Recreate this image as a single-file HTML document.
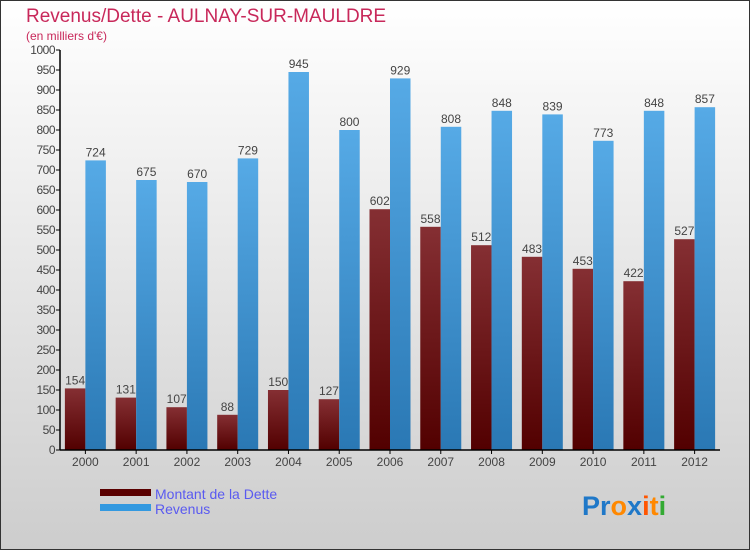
<!DOCTYPE html>
<html><head><meta charset="utf-8"><style>
body{margin:0;width:750px;height:550px;overflow:hidden;font-family:"Liberation Sans",sans-serif}
</style></head><body>
<svg width="750" height="550" id="c">
<defs>
<linearGradient id="bg" x1="0" y1="0" x2="0" y2="1"><stop offset="0" stop-color="#ffffff"/><stop offset="1" stop-color="#cdcdcd"/></linearGradient>
<linearGradient id="gd" x1="0" y1="0" x2="0" y2="1"><stop offset="0" stop-color="#852f33"/><stop offset="1" stop-color="#520000"/></linearGradient>
<linearGradient id="gr" x1="0" y1="0" x2="0" y2="1"><stop offset="0" stop-color="#56aae6"/><stop offset="1" stop-color="#2a78b4"/></linearGradient>
</defs>
<rect x="0.5" y="0.5" width="749" height="549" fill="url(#bg)" stroke="#333"/>
<text x="26" y="22" font-size="19" fill="#c8285a">Revenus/Dette - AULNAY-SUR-MAULDRE</text>
<text x="26" y="40" font-size="12" fill="#c8285a">(en milliers d'€)</text>
<g id="plot"></g>
<g>
<rect x="100" y="489" width="51" height="7" fill="#5a0000"/>
<text x="155" y="499" font-size="14" fill="#5a5af0">Montant de la Dette</text>
<rect x="100" y="504" width="51" height="7" fill="#3399e0"/>
<text x="155" y="514" font-size="14" fill="#5a5af0">Revenus</text>
</g>
<g font-size="27" font-weight="bold">
<text x="582" y="515"><tspan fill="#1f78c8">Pr</tspan><tspan fill="#ff8800">o</tspan><tspan fill="#1f78c8">x</tspan><tspan fill="#ff5500">i</tspan><tspan fill="#ff8800">t</tspan><tspan fill="#33aa33">i</tspan></text>
</g>
</svg>
<script>
const years=["2000","2001","2002","2003","2004","2005","2006","2007","2008","2009","2010","2011","2012"];
const dette=[154,131,107,88,150,127,602,558,512,483,453,422,527];
const revenus=[724,675,670,729,945,800,929,808,848,839,773,848,857];
const ticks=[0,50,100,150,200,250,300,350,400,450,500,550,600,650,700,750,800,850,900,950,1000];
const NS="http://www.w3.org/2000/svg";
const g=document.getElementById('plot');
const x0=60,x1=720,y0=450,yTop=50,step=(x1-x0)/years.length,bw=20.5;
const y=v=>y0-(v/1000)*(y0-yTop);
const cx=i=>x0+step*(i+0.5);
function mk(t,a,txt){const e=document.createElementNS(NS,t);for(const k in a)e.setAttribute(k,a[k]);if(txt!==undefined)e.textContent=txt;g.appendChild(e);return e;}
ticks.forEach(t=>{
 const l=mk('line',{x1:x0-4,x2:x0,y1:y(t),y2:y(t),stroke:'#000'});
 
 
 const tx=mk('text',{x:x0-5,y:y(t)+4,'font-size':12,fill:'#444','text-anchor':'end','letter-spacing':'-0.5'},t);
 
 
});
years.forEach((yr,i)=>{
 const c=cx(i);
 const b1=mk('rect',{x:c-bw,y:y(dette[i]),width:bw,height:y0-y(dette[i]),fill:'url(#gd)'});
 
 
 const b2=mk('rect',{x:c,y:y(revenus[i]),width:bw,height:y0-y(revenus[i]),fill:'url(#gr)'});
 
 
 const l1=mk('text',{x:c-bw/2,y:y(dette[i])-4,'font-size':12,fill:'#444','text-anchor':'middle'},dette[i]);
 
 
 const l2=mk('text',{x:c+bw/2,y:y(revenus[i])-4,'font-size':12,fill:'#444','text-anchor':'middle'},revenus[i]);
 
 
 const tk=mk('line',{x1:c,x2:c,y1:y0,y2:y0+4,stroke:'#000'});
 
 
 const xl=mk('text',{x:c,y:y0+16,'font-size':12,fill:'#444','text-anchor':'middle'},yr);
 
 
});
const ya=mk('line',{x1:x0,x2:x0,y1:yTop,y2:y0,stroke:'#000','stroke-width':1.5});


const xa=mk('line',{x1:x0,x2:x1,y1:y0,y2:y0,stroke:'#000','stroke-width':1.5});


</script>
</body></html>
